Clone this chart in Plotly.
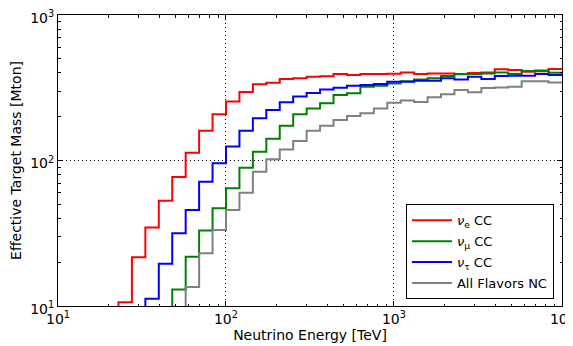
import plotly.graph_objects as go

# log10 of energy bin edges [TeV]
log_edges = [1.28, 1.36, 1.44, 1.52, 1.60, 1.68, 1.76, 1.84, 1.92, 2.00,
             2.08, 2.16, 2.24, 2.32, 2.40, 2.48, 2.56, 2.64, 2.72, 2.80,
             2.88, 2.96, 3.04, 3.12, 3.20, 3.28, 3.36, 3.44, 3.52, 3.60,
             3.68, 3.76, 3.84, 3.92, 4.00]

nue_cc = [5, 10.6, 21.6, 34.7, 52.9, 77, 113, 160, 208, 254,
          296, 334, 343, 363, 367, 377, 379, 393, 387, 393,
          393, 395, 403, 393, 397, 397, 393, 400, 403, 424,
          419, 408, 410, 426]
numu_cc = [1, 1, 1, 1, 5, 13.0, 21.8, 33.0, 46.9, 64.4,
           89, 115, 141, 173, 208, 228, 247, 282, 290, 321,
           326, 338, 351, 361, 367, 381, 391, 393, 397, 403,
           393, 412, 416, 401]
nutau_cc = [1, 1, 5, 11.2, 19.5, 31.6, 45.7, 71.5, 95.7, 125,
            160, 195, 222, 251, 275, 291, 308, 316, 326, 330,
            336, 348, 348, 354, 354, 367, 361, 377, 363, 381,
            383, 383, 393, 387]
all_nc = [1, 1, 1, 1, 1, 5, 13.5, 23.0, 33.3, 45.7,
          60, 83.8, 102, 119, 136, 160, 173, 190, 202, 211,
          228, 249, 258, 252, 272, 285, 305, 294, 315, 318,
          321, 351, 351, 344]

names = ["<i>ν</i><sub>e</sub> CC", "<i>ν</i><sub>μ</sub> CC",
         "<i>ν</i><sub>τ</sub> CC", "All Flavors NC"]
colors = ["#ff0000", "#008000", "#0000ff", "#808080"]
series = [nue_cc, numu_cc, nutau_cc, all_nc]

x_tickvals = [10, 100, 1000, 10000]
x_ticktext = ["10<sup>1</sup>", "10<sup>2</sup>", "10<sup>3</sup>", "10<sup>4</sup>"]
y_tickvals = [10, 100, 1000]
y_ticktext = ["10<sup>1</sup>", "10<sup>2</sup>", "10<sup>3</sup>"]
minor_mult = [2, 3, 4, 5, 6, 7, 8, 9]
x_minor = [d * m for d in [10, 100, 1000] for m in minor_mult]
y_minor = [d * m for d in [10, 100] for m in minor_mult]

energies = [10 ** e for e in log_edges]

fig = go.Figure()
for i, (name, col, vals) in enumerate(zip(names, colors, series)):
    fig.add_trace(go.Scatter(
        x=energies, y=vals + [vals[-1]], mode="lines", name=name,
        legendgroup=f"g{i}",
        line=dict(color=col, width=2, shape="hv"),
    ))

font = "DejaVu Sans, sans-serif"
XR = [1, 4.0001]
YR = [1, 3.0001]
axis_common = dict(
    type="log", showline=True, linecolor="black", linewidth=1, mirror="ticks",
    ticks="inside", ticklen=5, tickcolor="black", tickwidth=1,
    showgrid=True, gridcolor="black", griddash="1px,3px", gridwidth=1,
    zeroline=False, automargin=False, ticklabeloverflow="allow",
    tickfont=dict(family=font, size=14, color="black"),
)
minor_common = dict(
    type="log", showline=True, linecolor="black", linewidth=1, mirror="ticks",
    ticks="inside", ticklen=2.5, tickcolor="black", tickwidth=1,
    showgrid=False, zeroline=False, showticklabels=False, automargin=False,
)

# the page body adds an 8px offset; margins are shifted to compensate
fig.update_layout(
    width=573, height=346,
    margin=dict(l=50, r=19, t=7, b=48),
    paper_bgcolor="white", plot_bgcolor="white",
    font=dict(family=font, size=14, color="black"),
    xaxis=dict(axis_common, range=XR, tickvals=x_tickvals, ticktext=x_ticktext,
               title=dict(text="Neutrino Energy [TeV]", font=dict(size=14), standoff=2)),
    yaxis=dict(axis_common, range=YR, tickvals=y_tickvals, ticktext=y_ticktext,
               ticklabelshift=3,
               title=dict(text="Effective Target Mass [Mton]", font=dict(size=14), standoff=6)),
    xaxis2=dict(minor_common, range=XR, tickvals=x_minor, overlaying="x", anchor="y", side="bottom"),
    yaxis2=dict(minor_common, range=YR, tickvals=y_minor, overlaying="y", anchor="x", side="left"),
    legend=dict(x=0.984, y=0.023, xanchor="right", yanchor="bottom",
                bordercolor="black", borderwidth=1, bgcolor="white", itemwidth=40,
                tracegroupgap=1,
                font=dict(family=font, size=13)),
    showlegend=True,
)
# invisible trace to activate the minor-tick axes
fig.add_trace(go.Scatter(x=[100], y=[100], xaxis="x2", yaxis="y2", mode="markers",
                         marker=dict(opacity=0), showlegend=False, hoverinfo="skip"))

fig.write_html("out.html")
